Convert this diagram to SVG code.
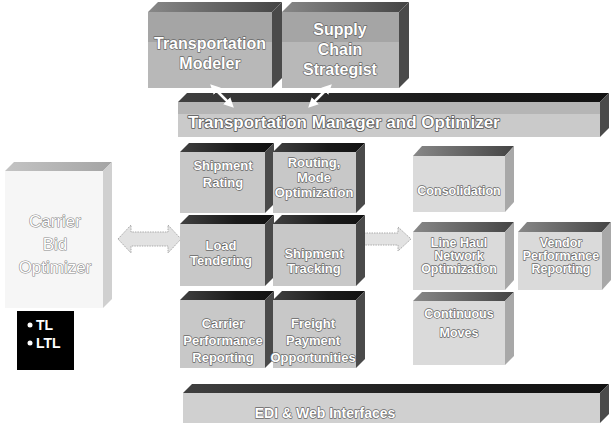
<svg xmlns="http://www.w3.org/2000/svg" width="611" height="430" viewBox="0 0 611 430">
<defs>
<linearGradient id="gTopDark" x1="0" y1="0" x2="1" y2="0"><stop offset="0" stop-color="#404040"/><stop offset="0.6" stop-color="#1a1a1a"/><stop offset="1" stop-color="#111"/></linearGradient>
<linearGradient id="gTopMid" x1="0" y1="0" x2="1" y2="0"><stop offset="0" stop-color="#888"/><stop offset="1" stop-color="#444"/></linearGradient>
<linearGradient id="gTopLight" x1="0" y1="0" x2="1" y2="0"><stop offset="0" stop-color="#c4c4c4"/><stop offset="1" stop-color="#a4a4a4"/></linearGradient>
<marker id="wh" viewBox="0 0 10 10" refX="6" refY="5" markerWidth="4" markerHeight="4" orient="auto-start-reverse"><path d="M0,0 L10,5 L0,10 Z" fill="#fff"/></marker>
</defs>
<style>
.lbl{font-family:"Liberation Sans",Arial,sans-serif;font-weight:bold;fill:#fff;stroke:#666;stroke-width:1.3px;paint-order:stroke;stroke-linejoin:round;text-anchor:middle}
.lblb{font-family:"Liberation Sans",Arial,sans-serif;font-weight:bold;fill:#fff;stroke:#555;stroke-width:1.6px;paint-order:stroke;stroke-linejoin:round}
.lblc{font-family:"Liberation Sans",Arial,sans-serif;fill:#fff;stroke:#888;stroke-width:1.2px;paint-order:stroke;stroke-linejoin:round;text-anchor:middle}
.tl{font-family:"Liberation Sans",Arial,sans-serif;font-weight:bold;fill:#fff;font-size:14px}
.arw{fill:#e2e2e2;stroke:#aaa;stroke-width:1;stroke-dasharray:1.5 1}
.wl{stroke:#fff;stroke-width:2.5;fill:none;marker-start:url(#wh);marker-end:url(#wh)}
.side{fill:#4a4a4a}
.sideM{fill:#a8a8a8}
.fTop{fill:#b8b8b8}
.shade{fill:#000;opacity:0.1}
.fGrid{fill:#c8c8c8}
.fRight{fill:#dadada}
.fBar{fill:#cacaca}
.fBar2{fill:#d0d0d0}
.fCbo{fill:#f6f6f6}
</style>

<g id="connectors">
<polygon class="arw" points="118,239 131,225 131,232 168,232 168,225 181,239 168,253 168,246 131,246 131,253"/>
<polygon class="arw" points="364,233 398,233 398,227 411,239 398,251 398,245 364,245"/>
</g>

<g id="transportation-modeler">
<path d="M148,12 L158,2 L282,2 L272,12 Z" fill="url(#gTopMid)"/>
<path class="side" d="M272,12 L282,2 L282,78 L272,88 Z"/>
<rect class="fTop" x="148" y="12" width="124" height="76"/>
<rect class="shade" x="148" y="12" width="124" height="30"/>
<text class="lbl" font-size="16" x="210" y="49">Transportation</text>
<text class="lbl" font-size="16" x="210" y="69">Modeler</text>
</g>

<g id="supply-chain-strategist">
<path d="M282,12 L292,2 L409,2 L399,12 Z" fill="url(#gTopMid)"/>
<path class="side" d="M399,12 L409,2 L409,78 L399,88 Z"/>
<rect class="fTop" x="282" y="12" width="117" height="76"/>
<rect class="shade" x="282" y="12" width="117" height="30"/>
<text class="lbl" font-size="16" x="340" y="35">Supply</text>
<text class="lbl" font-size="16" x="340" y="55">Chain</text>
<text class="lbl" font-size="16" x="340" y="75">Strategist</text>
</g>

<g id="transportation-manager">
<path d="M178,102 L187,93 L609,93 L600,102 Z" fill="url(#gTopDark)"/>
<path class="side" d="M600,102 L609,93 L609,128 L600,137 Z"/>
<rect class="fBar" x="178" y="102" width="422" height="35"/>
<rect class="shade" x="178" y="102" width="422" height="12"/>
<text class="lblb" font-size="17" x="188" y="128">Transportation Manager and Optimizer</text>
</g>

<g id="white-arrows">
<line class="wl" x1="213" y1="87" x2="231" y2="105"/>
<line class="wl" x1="311" y1="105" x2="329" y2="87"/>
</g>

<g id="shipment-rating">
<path d="M180,152 L189,143 L274,143 L265,152 Z" fill="url(#gTopDark)"/>
<path class="side" d="M265,152 L274,143 L274,204 L265,213 Z"/>
<rect class="fGrid" x="180" y="152" width="85" height="61"/>
<text class="lbl" font-size="13" x="223" y="170">Shipment</text>
<text class="lbl" font-size="13" x="223" y="187">Rating</text>
</g>

<g id="routing-mode-optimization">
<path d="M273,152 L282,143 L365,143 L356,152 Z" fill="url(#gTopDark)"/>
<path class="side" d="M356,152 L365,143 L365,204 L356,213 Z"/>
<rect class="fGrid" x="273" y="152" width="83" height="61"/>
<text class="lbl" font-size="13" x="314" y="167">Routing,</text>
<text class="lbl" font-size="13" x="314" y="182">Mode</text>
<text class="lbl" font-size="13" x="314" y="197">Optimization</text>
</g>

<g id="load-tendering">
<path d="M180,224 L189,215 L274,215 L265,224 Z" fill="url(#gTopDark)"/>
<path class="side" d="M265,224 L274,215 L274,277 L265,286 Z"/>
<rect class="fGrid" x="180" y="224" width="85" height="62"/>
<text class="lbl" font-size="13" x="221" y="250">Load</text>
<text class="lbl" font-size="13" x="221" y="265">Tendering</text>
</g>

<g id="shipment-tracking">
<path d="M273,224 L282,215 L365,215 L356,224 Z" fill="url(#gTopDark)"/>
<path class="side" d="M356,224 L365,215 L365,277 L356,286 Z"/>
<rect class="fGrid" x="273" y="224" width="83" height="62"/>
<text class="lbl" font-size="13" x="314" y="258">Shipment</text>
<text class="lbl" font-size="13" x="314" y="273">Tracking</text>
</g>

<g id="carrier-performance-reporting">
<path d="M180,300 L189,291 L274,291 L265,300 Z" fill="url(#gTopDark)"/>
<path class="side" d="M265,300 L274,291 L274,359 L265,368 Z"/>
<rect class="fGrid" x="180" y="300" width="85" height="68"/>
<text class="lbl" font-size="13" x="223" y="328">Carrier</text>
<text class="lbl" font-size="13" x="223" y="345">Performance</text>
<text class="lbl" font-size="13" x="223" y="362">Reporting</text>
</g>

<g id="freight-payment-opportunities">
<path d="M273,300 L282,291 L365,291 L356,300 Z" fill="url(#gTopDark)"/>
<path class="side" d="M356,300 L365,291 L365,359 L356,368 Z"/>
<rect class="fGrid" x="273" y="300" width="83" height="68"/>
<text class="lbl" font-size="13" x="313" y="328">Freight</text>
<text class="lbl" font-size="13" x="313" y="345">Payment</text>
<text class="lbl" font-size="13" x="313" y="362">Opportunities</text>
</g>

<g id="consolidation">
<path d="M413,156 L422,146 L514,146 L505,156 Z" fill="url(#gTopMid)"/>
<path class="sideM" d="M505,156 L514,146 L514,202 L505,212 Z"/>
<rect class="fRight" x="413" y="156" width="92" height="56"/>
<text class="lbl" font-size="12.5" x="459" y="195">Consolidation</text>
</g>

<g id="line-haul-network-optimization">
<path d="M413,232 L422,222 L514,222 L505,232 Z" fill="url(#gTopMid)"/>
<path class="sideM" d="M505,232 L514,222 L514,280 L505,290 Z"/>
<rect class="fRight" x="413" y="232" width="92" height="58"/>
<text class="lbl" font-size="12.5" x="459" y="247">Line Haul</text>
<text class="lbl" font-size="12.5" x="459" y="260">Network</text>
<text class="lbl" font-size="12.5" x="459" y="273">Optimization</text>
</g>

<g id="vendor-performance-reporting">
<path d="M518,232 L527,222 L611,222 L602,232 Z" fill="url(#gTopMid)"/>
<path class="sideM" d="M602,232 L611,222 L611,280 L602,290 Z"/>
<rect class="fRight" x="518" y="232" width="84" height="58"/>
<text class="lbl" font-size="12.5" x="561" y="247">Vendor</text>
<text class="lbl" font-size="12.5" x="561" y="260">Performance</text>
<text class="lbl" font-size="12.5" x="561" y="273">Reporting</text>
</g>

<g id="continuous-moves">
<path d="M413,301 L422,292 L514,292 L505,301 Z" fill="url(#gTopMid)"/>
<path class="sideM" d="M505,301 L514,292 L514,356 L505,365 Z"/>
<rect class="fRight" x="413" y="301" width="92" height="64"/>
<text class="lbl" font-size="12.5" x="459" y="318">Continuous</text>
<text class="lbl" font-size="12.5" x="459" y="337">Moves</text>
</g>

<g id="edi-web-interfaces">
<path d="M183,393 L192,384 L609,384 L600,393 Z" fill="url(#gTopDark)"/>
<path class="side" d="M600,393 L609,384 L609,414 L600,423 Z"/>
<rect class="fBar2" x="183" y="393" width="417" height="30"/>
<text class="lbl" font-size="14" x="325" y="418">EDI &amp; Web Interfaces</text>
</g>

<g id="carrier-bid-optimizer">
<path d="M5,171 L14,162 L112,162 L103,171 Z" fill="url(#gTopLight)"/>
<path d="M103,171 L112,162 L112,299 L103,308 Z" fill="#d0d0d0"/>
<rect class="fCbo" x="5" y="171" width="98" height="137"/>
<text class="lblc" font-size="17" x="55" y="227">Carrier</text>
<text class="lblc" font-size="17" x="55" y="250">Bid</text>
<text class="lblc" font-size="17" x="55" y="273">Optimizer</text>
</g>

<g id="tl-ltl">
<rect x="17" y="311" width="57" height="59" fill="#000"/>
<circle cx="30" cy="325" r="2.5" fill="#fff"/>
<text class="tl" x="36" y="330">TL</text>
<circle cx="30" cy="343" r="2.5" fill="#fff"/>
<text class="tl" x="36" y="348">LTL</text>
</g>
</svg>
